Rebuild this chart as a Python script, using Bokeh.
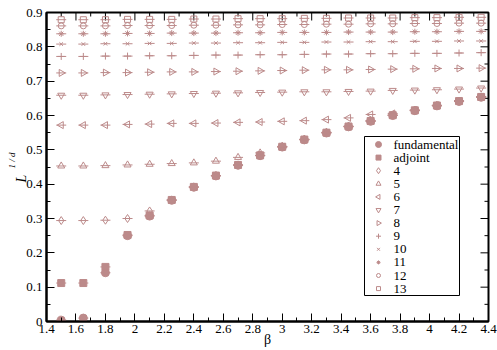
import math
import numpy as np
from bokeh.plotting import figure
from bokeh.models import (LinearAxis, FixedTicker, CustomJSTickFormatter, Title, Label,
                          Range1d, ColumnDataSource)
from bokeh.embed import file_html
from bokeh.resources import INLINE

# ---------------- data ----------------
beta = [1.5, 1.65, 1.8, 1.95, 2.1, 2.25, 2.4, 2.55, 2.7, 2.85,
        3.0, 3.15, 3.3, 3.45, 3.6, 3.75, 3.9, 4.05, 4.2, 4.35]

fundamental = [0.004, 0.010, 0.142, 0.250, 0.307, 0.353, 0.391, 0.424, 0.455, 0.483,
               0.508, 0.529, 0.549, 0.567, 0.583, 0.600, 0.614, 0.628, 0.641, 0.653]
adjoint = [0.112, 0.112, 0.159, 0.252, 0.309, 0.354, 0.392, 0.425, 0.456, 0.484,
           0.509, 0.530, 0.550, 0.568, 0.584, 0.601, 0.615, 0.629, 0.642, 0.654]
rep4 = [0.294, 0.294, 0.295, 0.300, 0.322, 0.354, 0.392, 0.425, 0.456, 0.484,
        0.509, 0.530, 0.550, 0.568, 0.584, 0.601, 0.615, 0.629, 0.642, 0.654]
rep5 = [0.453, 0.453, 0.454, 0.456, 0.458, 0.460, 0.462, 0.467, 0.478, 0.491,
        0.510, 0.531, 0.551, 0.569, 0.585, 0.601, 0.615, 0.629, 0.642, 0.654]
rep6 = [0.572, 0.572, 0.572, 0.574, 0.575, 0.577, 0.577, 0.578, 0.580, 0.581,
        0.583, 0.585, 0.588, 0.593, 0.603, 0.606, 0.616, 0.630, 0.643, 0.655]
rep7 = [0.659, 0.659, 0.660, 0.661, 0.662, 0.663, 0.664, 0.665, 0.666, 0.667,
        0.668, 0.669, 0.669, 0.670, 0.671, 0.673, 0.674, 0.675, 0.677, 0.680]
rep8 = [0.724, 0.724, 0.725, 0.725, 0.726, 0.727, 0.727, 0.728, 0.729, 0.730,
        0.731, 0.732, 0.733, 0.733, 0.734, 0.735, 0.736, 0.737, 0.737, 0.738]
rep9 = [0.772, 0.772, 0.773, 0.773, 0.774, 0.774, 0.775, 0.776, 0.776, 0.777,
        0.777, 0.778, 0.779, 0.779, 0.780, 0.780, 0.781, 0.781, 0.782, 0.783]
rep10 = [0.808, 0.808, 0.809, 0.809, 0.810, 0.810, 0.811, 0.811, 0.812, 0.812,
         0.813, 0.813, 0.814, 0.814, 0.815, 0.815, 0.816, 0.816, 0.817, 0.817]
rep11 = [0.838, 0.838, 0.838, 0.839, 0.839, 0.840, 0.840, 0.840, 0.841, 0.841,
         0.842, 0.842, 0.842, 0.843, 0.843, 0.843, 0.844, 0.844, 0.845, 0.845]
rep12 = [0.861, 0.861, 0.861, 0.862, 0.862, 0.862, 0.863, 0.863, 0.864, 0.864,
         0.865, 0.865, 0.866, 0.866, 0.867, 0.867, 0.868, 0.868, 0.869, 0.869]
rep13 = [0.879, 0.879, 0.879, 0.880, 0.880, 0.880, 0.881, 0.881, 0.882, 0.882,
         0.882, 0.883, 0.883, 0.884, 0.884, 0.884, 0.885, 0.885, 0.886, 0.886]

series_labels = ["fundamental", "adjoint", "4", "5", "6", "7", "8", "9", "10", "11", "12", "13"]
series_values = [fundamental, adjoint, rep4, rep5, rep6, rep7, rep8, rep9, rep10, rep11, rep12, rep13]

x_ticks = [1.4, 1.6, 1.8, 2.0, 2.2, 2.4, 2.6, 2.8, 3.0, 3.2, 3.4, 3.6, 3.8, 4.0, 4.2, 4.4]
y_ticks = [0.0, 0.1, 0.2, 0.3, 0.4, 0.5, 0.6, 0.7, 0.8, 0.9]

# ---------------- styling ----------------
COLOR = "#bc8a8a"
# (marker, size, angle, filled)
styles = [
    ("circle", 8, 0.0, True),
    ("square", 7, 0.0, True),
    ("diamond", 8, 0.0, False),
    ("triangle", 7, 0.0, False),
    ("triangle", 7, math.pi / 2, False),
    ("inverted_triangle", 7, 0.0, False),
    ("triangle", 7, -math.pi / 2, False),
    ("cross", 7, 0.0, False),
    ("x", 5, 0.0, False),
    ("asterisk", 6, 0.0, False),
    ("circle", 6, 0.0, False),
    ("square", 6, 0.0, False),
]

FONT = "Liberation Serif"
X0, X1, Y0, Y1 = 1.4, 4.4, 0.0, 0.9
FL, FR, FT, FB = 46, 488, 12, 321   # frame edges in px

p = figure(width=497, height=350, output_backend="svg", toolbar_location=None,
           x_range=Range1d(X0, X1), y_range=Range1d(Y0, Y1),
           x_axis_type=None, y_axis_type=None,
           min_border_left=FL, min_border_right=497 - FR,
           min_border_top=FT, min_border_bottom=350 - FB)
p.outline_line_color = "black"
p.outline_line_width = 2
p.background_fill_color = "white"
p.border_fill_color = "white"

x_minor = np.round(np.arange(1.4, 4.401, 0.1), 2).tolist()
y_minor = np.round(np.arange(0.0, 0.901, 0.05), 3).tolist()

fmt = CustomJSTickFormatter(code="return String(parseFloat(tick.toFixed(2)));")


def style_axis(ax, standoff):
    ax.axis_line_width = 2
    ax.axis_line_color = "black"
    ax.major_tick_in = 8
    ax.major_tick_out = 0
    ax.minor_tick_in = 4
    ax.minor_tick_out = 0
    ax.major_tick_line_width = 1
    ax.minor_tick_line_width = 1
    ax.major_tick_line_color = "black"
    ax.minor_tick_line_color = "black"
    ax.formatter = fmt
    ax.major_label_text_font = FONT
    ax.major_label_text_font_size = "13px"
    ax.major_label_text_color = "black"
    ax.major_label_standoff = standoff


xax = LinearAxis(ticker=FixedTicker(ticks=x_ticks, minor_ticks=x_minor))
style_axis(xax, 3)
xax.axis_label = "β"
xax.axis_label_text_font = FONT
xax.axis_label_text_font_style = "normal"
xax.axis_label_text_font_size = "14px"
xax.axis_label_text_color = "black"
xax.axis_label_standoff = -4
p.add_layout(xax, "below")

yax = LinearAxis(ticker=FixedTicker(ticks=y_ticks, minor_ticks=y_minor))
style_axis(yax, 4)
p.add_layout(yax, "left")

# y-axis title: L with a raised "1 / d"
p.add_layout(Title(text="L", align="left", offset=139, standoff=-10,
                   text_font=FONT, text_font_style="italic", text_font_size="14px",
                   text_color="black"), "left")
p.add_layout(Title(text="1 / d", align="left", offset=153, standoff=0,
                   text_font=FONT, text_font_style="italic", text_font_size="9px",
                   text_color="black"), "left")

# mirrored inward ticks on the top and right edges
sx = (X1 - X0) / (FR - FL)   # data units per px
sy = (Y1 - Y0) / (FB - FT)
top_minor = [t for t in x_minor if t not in x_ticks]
p.segment(x0=x_ticks, y0=[Y1] * len(x_ticks), x1=x_ticks,
          y1=[Y1 - 8 * sy] * len(x_ticks), line_color="black", line_width=1)
p.segment(x0=top_minor, y0=[Y1] * len(top_minor), x1=top_minor,
          y1=[Y1 - 4 * sy] * len(top_minor), line_color="black", line_width=1)
r_minor = [t for t in y_minor if t not in y_ticks]
p.segment(x0=[X1] * len(y_ticks), y0=y_ticks, x1=[X1 - 8 * sx] * len(y_ticks),
          y1=y_ticks, line_color="black", line_width=1)
p.segment(x0=[X1] * len(r_minor), y0=r_minor, x1=[X1 - 4 * sx] * len(r_minor),
          y1=r_minor, line_color="black", line_width=1)

# data series
for vals, (marker, size, angle, filled) in zip(series_values, styles):
    src = ColumnDataSource(dict(x=beta, y=vals))
    p.scatter("x", "y", source=src, marker="dash", size=10, line_color=COLOR, line_width=1)
    p.scatter("x", "y", source=src, marker=marker, size=size, angle=angle,
              line_color=COLOR, line_width=1,
              fill_color=COLOR if filled else None,
              fill_alpha=1.0 if filled else 0.0)


# legend box (positions given in pixels, converted to data space)
def dxp(px):
    return X0 + (px - FL) * sx


def dyp(py):
    return Y0 + (FB - py) * sy


LB_L, LB_R, LB_T, LB_B = 364, 459, 136, 295
p.quad(left=[dxp(LB_L)], right=[dxp(LB_R)], top=[dyp(LB_T)], bottom=[dyp(LB_B)],
       fill_color="white", line_color="black", line_width=1)
ROW0, ROWH, GX, TX = 144, 13.1, 378, 393
for i, (label, (marker, size, angle, filled)) in enumerate(zip(series_labels, styles)):
    py = ROW0 + ROWH * i
    p.scatter([dxp(GX)], [dyp(py)], marker=marker, size=max(4, size - 2), angle=angle,
              line_color=COLOR, line_width=1,
              fill_color=COLOR if filled else None,
              fill_alpha=1.0 if filled else 0.0)
    p.add_layout(Label(x=TX - FL, y=FB - py, x_units="screen", y_units="screen",
                       text=label, text_font=FONT, text_font_size="13px",
                       text_align="left", text_baseline="middle", text_color="black"))

open("out.html", "w").write(file_html(p, INLINE))
